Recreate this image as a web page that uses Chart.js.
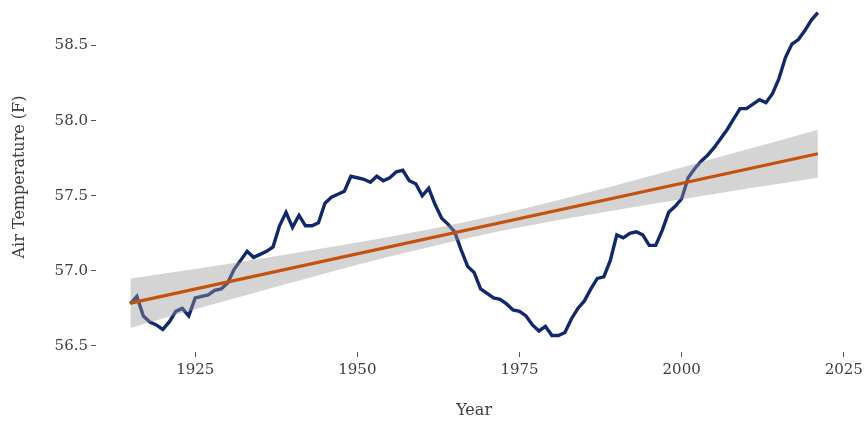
<!DOCTYPE html>
<html>
<head>
<meta charset="utf-8">
<script src="https://cdn.jsdelivr.net/npm/chart.js@4.4.1/dist/chart.umd.min.js"></script>
<style>
  html, body { margin: 0; padding: 0; background: #ffffff; overflow: hidden; }
  #wrap { position: relative; width: 867px; height: 421px; overflow: hidden; }
  #c { position: absolute; left: 0; top: -10px; }
</style>
</head>
<body>
<div id="wrap"><canvas id="c" width="867" height="431"></canvas></div>
<script>
const years = [1915,1916,1917,1918,1919,1920,1921,1922,1923,1924,
  1925,1926,1927,1928,1929,1930,1931,1932,1933,1934,
  1935,1936,1937,1938,1939,1940,1941,1942,1943,1944,
  1945,1946,1947,1948,1949,1950,1951,1952,1953,1954,
  1955,1956,1957,1958,1959,1960,1961,1962,1963,1964,
  1965,1966,1967,1968,1969,1970,1971,1972,1973,1974,
  1975,1976,1977,1978,1979,1980,1981,1982,1983,1984,
  1985,1986,1987,1988,1989,1990,1991,1992,1993,1994,
  1995,1996,1997,1998,1999,2000,2001,2002,2003,2004,
  2005,2006,2007,2008,2009,2010,2011,2012,2013,2014,
  2015,2016,2017,2018,2019,2020,2021];

const airTemp = [56.78,56.83,56.70,56.66,56.64,56.61,56.66,56.73,56.75,56.70,
  56.82,56.83,56.84,56.87,56.88,56.92,57.01,57.07,57.13,57.09,
  57.11,57.13,57.16,57.30,57.39,57.29,57.37,57.30,57.30,57.32,
  57.45,57.49,57.51,57.53,57.63,57.62,57.61,57.59,57.63,57.60,
  57.62,57.66,57.67,57.60,57.58,57.50,57.55,57.44,57.35,57.31,
  57.26,57.14,57.03,56.99,56.88,56.85,56.82,56.81,56.78,56.74,
  56.73,56.70,56.64,56.60,56.63,56.57,56.57,56.59,56.68,56.75,
  56.80,56.88,56.95,56.96,57.07,57.24,57.22,57.25,57.26,57.24,
  57.17,57.17,57.27,57.39,57.43,57.48,57.62,57.68,57.73,57.77,
  57.82,57.88,57.94,58.01,58.08,58.08,58.11,58.14,58.12,58.18,
  58.28,58.42,58.51,58.54,58.60,58.67,58.72];

const trendYears = [1915, 2021];
const trendValues = [56.785, 57.78];

const bandYears = [1915,1925,1935,1945,1955,1968,1980,1990,2000,2010,2021];
const bandLower = [56.62,56.745,56.865,56.982,57.095,57.228,57.33,57.406,57.477,57.546,57.62];
const bandUpper = [56.95,57.013,57.081,57.152,57.227,57.338,57.46,57.572,57.689,57.808,57.94];

const xTicks = [1925, 1950, 1975, 2000, 2025];
const yTicks = [56.5, 57.0, 57.5, 58.0, 58.5];

const pts = (xs, ys) => xs.map((x, i) => ({x: x, y: ys[i]}));

const FONT = "'DejaVu Serif', 'Liberation Serif', serif";
const TXT = '#3d3d3d';

new Chart(document.getElementById('c'), {
  type: 'line',
  data: {
    datasets: [
      {
        label: 'Air Temperature',
        data: pts(years, airTemp),
        borderColor: '#10296e',
        borderWidth: 3.4,
        pointRadius: 0,
        tension: 0,
        fill: false,
        order: 3
      },
      {
        label: 'lower',
        data: pts(bandYears, bandLower),
        borderWidth: 0,
        borderColor: 'rgba(0,0,0,0)',
        pointRadius: 0,
        cubicInterpolationMode: 'monotone',
        fill: false,
        order: 2
      },
      {
        label: 'upper',
        data: pts(bandYears, bandUpper),
        borderWidth: 0,
        borderColor: 'rgba(0,0,0,0)',
        backgroundColor: 'rgba(153,153,153,0.42)',
        pointRadius: 0,
        cubicInterpolationMode: 'monotone',
        fill: '-1',
        order: 2
      },
      {
        label: 'trend',
        data: pts(trendYears, trendValues),
        borderColor: '#c4510c',
        borderWidth: 3.2,
        pointRadius: 0,
        fill: false,
        order: 1
      }
    ]
  },
  options: {
    responsive: false,
    animation: false,
    devicePixelRatio: 1,
    layout: { padding: { left: 0, right: 11, top: 0, bottom: 0 } },
    plugins: {
      legend: { display: false },
      tooltip: { enabled: false },
      filler: { drawTime: 'beforeDatasetDraw' }
    },
    scales: {
      x: {
        type: 'linear',
        min: 1909.7,
        max: 2026.3,
        afterBuildTicks: (s) => { s.ticks = xTicks.map(v => ({value: v})); },
        afterFit: (s) => { s.height = 69; },
        border: { display: false },
        grid: { display: true, drawOnChartArea: false, drawTicks: true, tickLength: 5, tickColor: '#555555', tickWidth: 1 },
        ticks: {
          color: TXT,
          font: { family: FONT, size: 15 },
          padding: 4,
          maxRotation: 0,
          autoSkip: false,
          callback: (v) => String(v)
        },
        title: {
          display: true,
          text: 'Year',
          color: TXT,
          font: { family: FONT, size: 16 },
          padding: { top: 4, bottom: 1 }
        }
      },
      y: {
        type: 'linear',
        min: 56.46,
        max: 58.79,
        afterBuildTicks: (s) => { s.ticks = yTicks.map(v => ({value: v})); },
        afterFit: (s) => { s.width = 96; },
        border: { display: false },
        grid: { display: true, drawOnChartArea: false, drawTicks: true, tickLength: 5, tickColor: '#555555', tickWidth: 1 },
        ticks: {
          color: TXT,
          font: { family: FONT, size: 15 },
          padding: 3,
          autoSkip: false,
          callback: (v) => Number(v).toFixed(1)
        },
        title: {
          display: true,
          text: 'Air Temperature (F)',
          color: TXT,
          font: { family: FONT, size: 16 },
          padding: { top: 10, bottom: 0 }
        }
      }
    }
  }
});
</script>
</body>
</html>
